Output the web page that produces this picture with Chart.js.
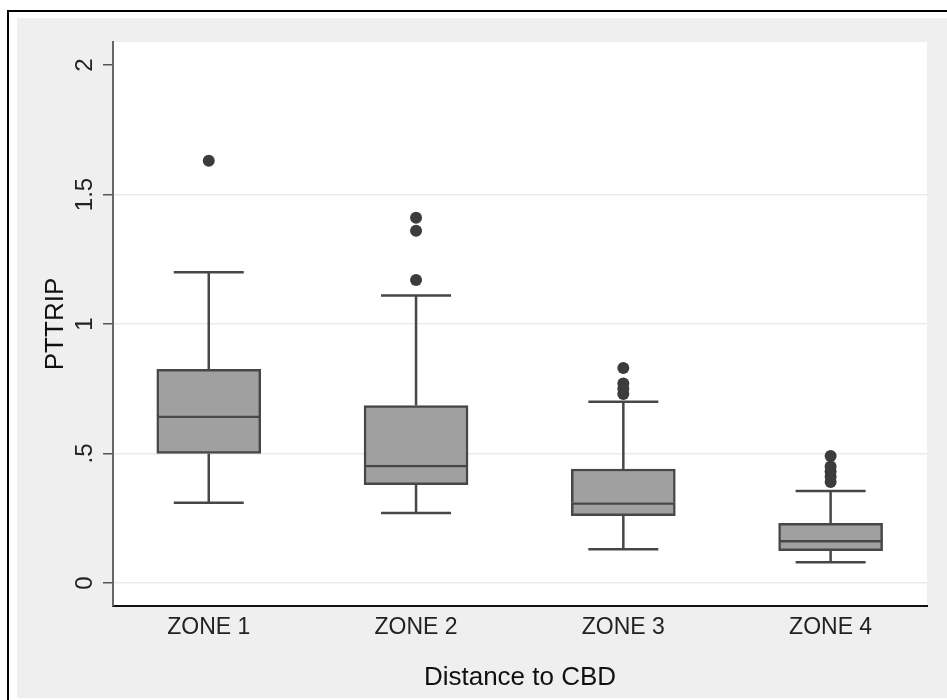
<!DOCTYPE html>
<html>
<head>
<meta charset="utf-8">
<title>PTTRIP by zone</title>
<script src="https://cdn.jsdelivr.net/npm/chart.js@4.4.1/dist/chart.umd.min.js"></script>
<style>
  html, body { margin: 0; padding: 0; background: #fff; overflow: hidden; }
  body { width: 947px; height: 700px; position: relative; }
  #frame {
    position: absolute; left: 7px; top: 10px; width: 1000px; height: 800px;
    border-left: 2px solid #000; border-top: 2px solid #000;
  }
  #panel {
    position: absolute; left: 17px; top: 18px; width: 930px; height: 680px;
    background: #efefef;
  }
  canvas { display: block; }
</style>
</head>
<body>
<div id="frame"></div>
<div id="panel"><canvas id="box-chart" width="930" height="680"></canvas></div>
<script>
const zones = ['ZONE 1', 'ZONE 2', 'ZONE 3', 'ZONE 4'];
const lowerWhisker = [0.31, 0.27, 0.13, 0.08];
const q1 = [0.50, 0.38, 0.26, 0.125];
const median = [0.645, 0.455, 0.31, 0.165];
const q3 = [0.825, 0.685, 0.44, 0.23];
const upperWhisker = [1.20, 1.11, 0.70, 0.355];
const outliers = [
    [1.63],
    [1.17, 1.36, 1.41],
    [0.73, 0.75, 0.77, 0.83],
    [0.39, 0.41, 0.43, 0.45, 0.49]
];
const yTicks = [0, 0.5, 1, 1.5, 2];
const yTickLabels = ['0', '.5', '1', '1.5', '2'];

const lineColor = '#474747';
const boxFill = '#a0a0a0';

// whiskers and caps, drawn from the scales
const whiskerPlugin = {
    id: 'whiskers',
    beforeDatasetsDraw(chart) {
        const {ctx, scales: {x, y}} = chart;
        ctx.save();
        ctx.strokeStyle = lineColor;
        ctx.lineWidth = 2.5;
        zones.forEach((z, i) => {
            const cx = x.getPixelForValue(i + 1);
            const pairs = [[q3[i], upperWhisker[i]], [q1[i], lowerWhisker[i]]];
            pairs.forEach(([from, to]) => {
                const y0 = y.getPixelForValue(from);
                const y1 = y.getPixelForValue(to);
                ctx.beginPath();
                ctx.moveTo(cx, y0);
                ctx.lineTo(cx, y1);
                ctx.moveTo(cx - 35, y1);
                ctx.lineTo(cx + 35, y1);
                ctx.stroke();
            });
        });
        ctx.restore();
    }
};

// white plot region on the grey panel
const plotBackground = {
    id: 'plotBackground',
    beforeDraw(chart) {
        const {ctx, chartArea: a} = chart;
        ctx.save();
        ctx.fillStyle = '#ffffff';
        ctx.fillRect(a.left, a.top, a.right - a.left, a.bottom - a.top);
        ctx.restore();
    }
};

// y tick labels are rotated like the axis title
const yLabelPlugin = {
    id: 'yLabels',
    afterDraw(chart) {
        const {ctx, scales: {y}} = chart;
        ctx.save();
        ctx.fillStyle = '#222';
        ctx.font = '24px "Liberation Sans", Arial, sans-serif';
        ctx.textAlign = 'center';
        ctx.textBaseline = 'middle';
        yTicks.forEach((v, i) => {
            ctx.save();
            ctx.translate(68, y.getPixelForValue(v));
            ctx.rotate(-Math.PI / 2);
            ctx.fillText(yTickLabels[i], 0, 0);
            ctx.restore();
        });
        ctx.restore();
    }
};

const ctx = document.getElementById('box-chart');

new Chart(ctx, {
    type: 'bar',
    data: {
        datasets: [
        {
            label: 'lower box',
            data: zones.map((z, i) => ({x: i + 1, y: [q1[i], median[i]]})),
            backgroundColor: boxFill,
            borderColor: lineColor,
            borderWidth: 2.5,
            borderSkipped: false,
            barThickness: 104,
            grouped: false
        },
        {
            label: 'upper box',
            data: zones.map((z, i) => ({x: i + 1, y: [median[i], q3[i]]})),
            backgroundColor: boxFill,
            borderColor: lineColor,
            // median line comes from the lower box's top edge
            borderWidth: {top: 2.5, left: 2.5, right: 2.5, bottom: 0},
            borderSkipped: false,
            barThickness: 104,
            grouped: false
        },
        {
            type: 'scatter',
            label: 'outside values',
            data: outliers.flatMap((vals, i) => vals.map(v => ({x: i + 1, y: v}))),
            backgroundColor: '#3c3c3c',
            borderColor: '#3c3c3c',
            borderWidth: 0,
            pointRadius: 6
        }
        ]
    },
    options: {
        responsive: false,
        animation: false,
        devicePixelRatio: 1,
        layout: {
            padding: {left: 0, top: 24, right: 20, bottom: 0}
        },
        scales: {
            x: {
                type: 'linear',
                offset: false,
                min: 0.538,
                max: 4.465,
                afterFit(scale) { scale.height = 92; },
                afterBuildTicks(scale) {
                    scale.ticks = zones.map((z, i) => ({value: i + 1}));
                },
                ticks: {
                    color: '#222',
                    padding: 8,
                    autoSkip: false,
                    maxRotation: 0,
                    font: {family: '"Liberation Sans", Arial, sans-serif', size: 23},
                    callback: (value) => zones[value - 1]
                },
                grid: {drawOnChartArea: false, drawTicks: false, offset: false},
                border: {display: true, color: '#111', width: 2},
                title: {
                    display: true,
                    text: 'Distance to CBD',
                    color: '#111',
                    font: {family: '"Liberation Sans", Arial, sans-serif', size: 26},
                    padding: {top: 0, bottom: 5}
                }
            },
            y: {
                type: 'linear',
                min: -0.089,
                max: 2.089,
                afterFit(scale) { scale.width = 96; },
                afterBuildTicks(scale) {
                    scale.ticks = yTicks.map(v => ({value: v}));
                },
                ticks: {display: false},
                grid: {
                    color: (c) => (c.tick && c.tick.value < 2 ? '#ebebeb' : 'rgba(0,0,0,0)'),
                    lineWidth: 1.5,
                    tickColor: '#555',
                    tickLength: 10,
                    drawTicks: true
                },
                border: {display: true, color: '#666', width: 2},
                title: {
                    display: true,
                    text: 'PTTRIP',
                    color: '#111',
                    font: {family: '"Liberation Sans", Arial, sans-serif', size: 26},
                    padding: {top: 23, bottom: 0}
                }
            }
        },
        plugins: {
            legend: {display: false},
            tooltip: {enabled: false}
        }
    },
    plugins: [plotBackground, whiskerPlugin, yLabelPlugin]
});
</script>
</body>
</html>
